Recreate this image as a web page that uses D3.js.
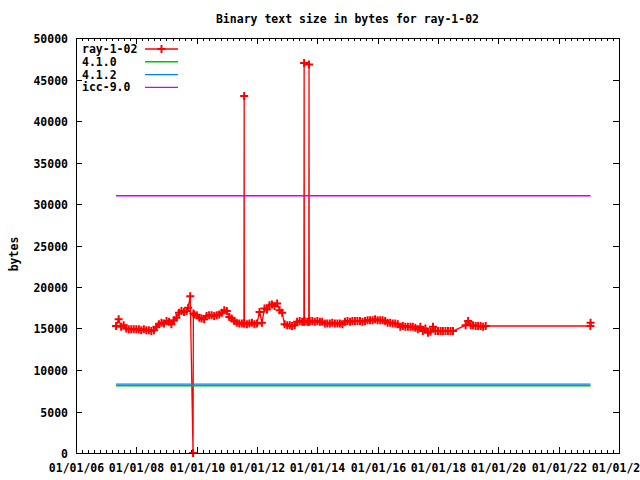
<!DOCTYPE html>
<meta charset="utf-8">
<style>
    body { margin: 0; background: #fff; }
    text {
        font-family: "DejaVu Sans Mono", monospace;
        font-weight: bold;
        font-size: 11.5px;
        fill: #000;
    }
    .border { fill: none; stroke: #000; stroke-width: 1px; }
    .tick { stroke: #000; stroke-width: 1px; }
</style>
<svg width="640" height="480"></svg>
<script src="https://d3js.org/d3.v7.min.js"></script>
<script>
    const title = "Binary text size in bytes for ray-1-02";
    const seriesNames = ["ray-1-02", "4.1.0", "4.1.2", "icc-9.0"];
    const seriesColors = ["#ff0000", "#00c000", "#0080ff", "#cc00ff"];

    // ray-1-02 measurements (date, bytes)
    const rayDates = [
        "2007-05-01", "2007-06-01", "2007-07-01", "2007-08-01", "2007-09-01", "2007-10-01", "2007-11-01", "2007-12-01",
        "2008-01-01", "2008-02-01", "2008-03-01", "2008-04-01", "2008-05-01", "2008-06-01", "2008-07-01", "2008-08-01",
        "2008-09-01", "2008-10-01", "2008-11-01", "2008-12-01",
        "2009-01-01", "2009-02-01", "2009-03-01", "2009-04-01", "2009-05-01", "2009-06-01", "2009-07-01", "2009-08-01",
        "2009-09-01", "2009-09-20", "2009-10-15", "2009-11-18", "2009-11-22", "2009-12-01",
        "2010-01-01", "2010-02-01", "2010-03-01", "2010-04-01", "2010-05-01", "2010-06-01", "2010-07-01", "2010-08-01",
        "2010-09-01", "2010-10-01", "2010-11-01", "2010-12-01",
        "2011-01-01", "2011-02-01", "2011-03-01", "2011-04-01", "2011-05-01", "2011-06-01", "2011-07-01", "2011-07-27",
        "2011-07-30", "2011-08-01", "2011-09-01", "2011-10-01", "2011-11-01", "2011-12-01",
        "2012-01-01", "2012-02-01", "2012-03-01", "2012-04-01", "2012-05-01", "2012-06-01", "2012-07-01", "2012-08-01",
        "2012-09-01", "2012-10-01", "2012-11-01", "2012-12-01",
        "2013-01-01", "2013-02-01", "2013-03-01", "2013-04-01", "2013-05-01", "2013-06-01", "2013-07-01", "2013-07-22",
        "2013-07-25", "2013-07-28", "2013-08-01", "2013-09-01", "2013-09-19", "2013-09-22", "2013-09-25", "2013-10-01",
        "2013-11-01", "2013-12-01",
        "2014-01-01", "2014-02-01", "2014-03-01", "2014-04-01", "2014-05-01", "2014-06-01", "2014-07-01", "2014-08-01",
        "2014-09-01", "2014-10-01", "2014-11-01", "2014-12-01",
        "2015-01-01", "2015-02-01", "2015-03-01", "2015-04-01", "2015-05-01", "2015-06-01", "2015-07-01", "2015-08-01",
        "2015-09-01", "2015-10-01", "2015-11-01", "2015-12-01",
        "2016-01-01", "2016-02-01", "2016-03-01", "2016-04-01", "2016-05-01", "2016-06-01", "2016-07-01", "2016-08-01",
        "2016-09-01", "2016-10-01", "2016-11-01", "2016-12-01",
        "2017-01-01", "2017-02-01", "2017-03-01", "2017-04-01", "2017-05-01", "2017-06-01", "2017-07-01", "2017-08-01",
        "2017-09-01", "2017-10-01", "2017-11-01", "2017-12-01",
        "2018-01-01", "2018-02-01", "2018-03-01", "2018-04-01", "2018-05-01", "2018-06-01", "2018-07-01", "2018-12-01",
        "2019-01-01", "2019-02-01", "2019-03-01", "2019-04-01", "2019-05-01", "2019-06-01", "2019-07-01", "2019-08-01",
        "2023-01-20", "2023-01-22"
    ];
    const rayBytes = [
        15300, 16100, 15200, 15400, 15000, 14900, 14900, 14900,
        14900, 14900, 14800, 14900, 14800, 14800, 14700, 14800,
        15200, 15500, 15700, 15600,
        15900, 15800, 15500, 16000, 16300, 16900, 17100, 17000,
        17100, 17500, 18900, 0, 16800, 16700,
        16600, 16300, 16200, 16100, 16500, 16600, 16600, 16500,
        16600, 16700, 16900, 17200,
        17100, 16400, 16200, 15900, 15700, 15600, 15600, 15600,
        43000, 15600, 15500, 15600, 15700, 15500,
        15600, 17000, 15700, 17400, 17300, 17800, 17900, 17700,
        18000, 17200, 16900, 15500,
        15400, 15400, 15300, 15400, 15800, 15900, 15800, 15800,
        47000, 15800, 15900, 15800, 15800, 46800, 15800, 15900,
        15900, 15800,
        15900, 15800, 15800, 15600, 15600, 15600, 15700, 15600,
        15600, 15600, 15500, 15800,
        15900, 15800, 15900, 15900, 15900, 15900, 15800, 15900,
        16000, 16000, 16000, 16100,
        16000, 16000, 16000, 15900, 15700, 15700, 15600, 15600,
        15500, 15200, 15300, 15200,
        15200, 15200, 15200, 15100, 14900, 15200, 14700, 15000,
        14500, 14600, 15200, 14700,
        14700, 14700, 14700, 14700, 14700, 14700, 14700, 15400,
        15900, 15400, 15400, 15300, 15300, 15300, 15200, 15300,
        15300, 15700
    ];

    // compiler reference sizes (flat lines)
    const refNames = ["4.1.0", "4.1.2", "icc-9.0"];
    const refBytes = [8100, 8300, 31000];

    const yTicks = [0, 5000, 10000, 15000, 20000, 25000, 30000, 35000, 40000, 45000, 50000];

    const parse = d3.utcParse("%Y-%m-%d");
    const ray = rayDates.map((d, i) => ({ date: parse(d), value: rayBytes[i] }));

    const plotLeft = 76, plotRight = 619, plotTop = 38, plotBottom = 453;
    const svg = d3.select("svg");

    const x = d3.scaleUtc()
        .domain([parse("2006-01-01"), parse("2024-01-01")])
        .range([plotLeft, plotRight]);
    const y = d3.scaleLinear()
        .domain([0, 50000])
        .range([plotBottom, plotTop]);

    // title
    svg.append("text")
        .attr("x", (plotLeft + plotRight) / 2)
        .attr("y", 23)
        .attr("text-anchor", "middle")
        .text(title);

    // y label
    svg.append("text")
        .attr("transform", "translate(18,254) rotate(-90)")
        .attr("text-anchor", "middle")
        .text("bytes");

    // y ticks, both sides, inward
    const yg = svg.append("g");
    yTicks.forEach(function (v) {
        const py = Math.round(y(v)) + 0.5;
        yg.append("line").attr("class", "tick")
            .attr("x1", plotLeft).attr("x2", plotLeft + 6).attr("y1", py).attr("y2", py);
        yg.append("line").attr("class", "tick")
            .attr("x1", plotRight - 6).attr("x2", plotRight).attr("y1", py).attr("y2", py);
        yg.append("text")
            .attr("x", 68)
            .attr("y", py + 4)
            .attr("text-anchor", "end")
            .text(v);
    });

    // x ticks: major every 2 years, 9 minor between
    const majors = d3.utcYear.every(2).range(parse("2006-01-01"), parse("2024-01-02"));
    const fmt = d3.utcFormat("%m/%d/%y");
    const xg = svg.append("g");
    majors.forEach(function (d, i) {
        const px = Math.round(x(d)) + 0.5;
        xg.append("line").attr("class", "tick")
            .attr("x1", px).attr("x2", px).attr("y1", plotBottom).attr("y2", plotBottom - 6);
        xg.append("line").attr("class", "tick")
            .attr("x1", px).attr("x2", px).attr("y1", plotTop).attr("y2", plotTop + 6);
        xg.append("text")
            .attr("x", px)
            .attr("y", 472)
            .attr("text-anchor", "middle")
            .text(fmt(d));
        if (i < majors.length - 1) {
            const a = d.getTime(), b = majors[i + 1].getTime();
            for (let k = 1; k < 10; k++) {
                const mx = Math.round(x(new Date(a + (b - a) * k / 10))) + 0.5;
                xg.append("line").attr("class", "tick")
                    .attr("x1", mx).attr("x2", mx).attr("y1", plotBottom).attr("y2", plotBottom - 3);
                xg.append("line").attr("class", "tick")
                    .attr("x1", mx).attr("x2", mx).attr("y1", plotTop).attr("y2", plotTop + 3);
            }
        }
    });

    // ray-1-02 linespoints
    const line = d3.line()
        .x(d => x(d.date))
        .y(d => y(d.value));

    svg.append("path")
        .datum(ray)
        .attr("fill", "none")
        .attr("stroke", seriesColors[0])
        .attr("stroke-width", 1.3)
        .attr("d", line);

    function plus(g, cx, cy, color) {
        g.append("path")
            .attr("d", "M" + (cx - 4) + "," + cy + "H" + (cx + 4) + "M" + cx + "," + (cy - 4) + "V" + (cy + 4))
            .attr("stroke", color)
            .attr("stroke-width", 2)
            .attr("fill", "none");
    }

    const pts = svg.append("g");
    ray.forEach(function (d) {
        plus(pts, x(d.date), y(d.value), seriesColors[0]);
    });

    // flat reference lines spanning the measured range
    const span = d3.extent(ray, d => d.date);
    refBytes.forEach(function (v, i) {
        svg.append("line")
            .attr("x1", x(span[0])).attr("x2", x(span[1]))
            .attr("y1", y(v)).attr("y2", y(v))
            .attr("stroke", seriesColors[i + 1])
            .attr("stroke-width", 1.4);
    });

    // legend
    const legend = svg.append("g");
    seriesNames.forEach(function (name, i) {
        const ly = 49 + i * 12.8;
        legend.append("text")
            .attr("x", 82)
            .attr("y", ly + 4)
            .text(name);
        legend.append("line")
            .attr("x1", 145).attr("x2", 178)
            .attr("y1", ly).attr("y2", ly)
            .attr("stroke", seriesColors[i])
            .attr("stroke-width", 1.4);
        if (i === 0) plus(legend, 161.5, ly, seriesColors[0]);
    });

    // border
    svg.append("rect")
        .attr("class", "border")
        .attr("x", plotLeft + 0.5).attr("y", plotTop + 0.5)
        .attr("width", plotRight - plotLeft).attr("height", plotBottom - plotTop);
</script>
